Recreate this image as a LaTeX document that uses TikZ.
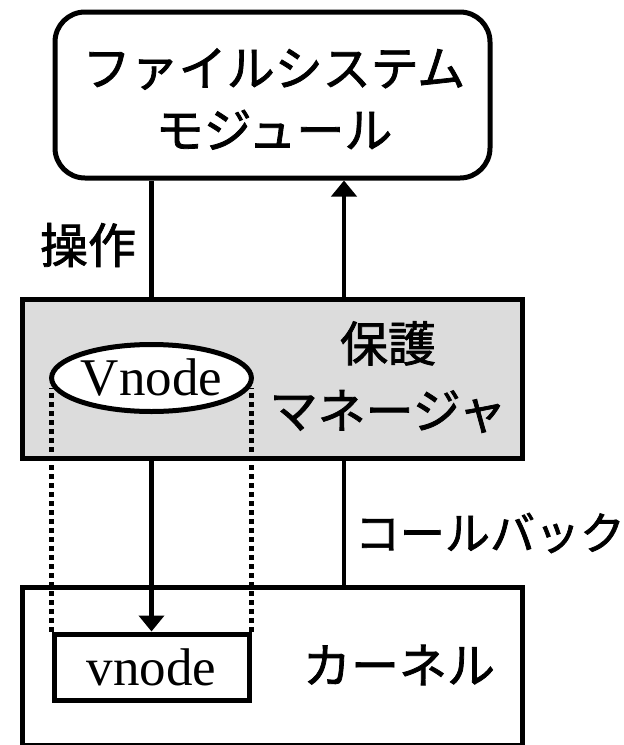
\documentclass[tikz,border=0pt]{standalone}
\usepackage{fontspec}
\setmainfont{Liberation Serif}
\newfontfamily\jp[FakeBold=1.6]{Noto Sans CJK JP}
\usetikzlibrary{arrows.meta,shapes.geometric,calc}
\definecolor{pmgray}{HTML}{DCDCDC}
\tikzset{
  box/.style={draw, line width=5pt, inner sep=0pt},
  jptext/.style={font=\jp\fontsize{48}{62}\selectfont, align=center, inner sep=0pt},
  entext/.style={font=\fontsize{53}{60}\selectfont},
  conn/.style={line width=4.5pt},
  arr/.style={conn, -{Triangle[width=25pt,length=16pt]}},
  dots/.style={line width=4.5pt, dash pattern=on 4.5pt off 4.5pt}
}
\begin{document}
\begin{tikzpicture}[x=1pt,y=-1pt]
\useasboundingbox (0,0) rectangle (624,745);
% boxes
\node[box, rounded corners=30pt, minimum width=435pt, minimum height=166pt] (fs) at (272.5,95) {};
\node[jptext] (fst) at (274,99) {ファイルシステム\\モジュール};
\node[box, fill=pmgray, minimum width=500pt, minimum height=159pt] (pm) at (272,378.5) {};
\node[jptext, font=\jp\fontsize{48}{67}\selectfont] (pmt) at (388,377) {保護\\マネージャ};
\node[box, minimum width=500pt, minimum height=158pt] (kern) at (272,666) {};
\node[jptext] (kt) at (399,665) {カーネル};
\node[box, ellipse, fill=white, minimum width=195pt, minimum height=67pt, entext] (vn) at (151.5,378) {Vnode};
\node[box, fill=white, minimum width=195pt, minimum height=66pt, entext] (vb) at (151.5,667) {vnode};
\coordinate (cbx) at (344,520);
% connectors
\draw[conn] (fs.south -| vn) -- (pm.north -| vn);
\draw[arr] (pm.south -| vn) -- (vb.north);
\draw[conn] (kern.north -| cbx) -- (pm.south -| cbx);
\draw[arr] (pm.north -| cbx) -- (fs.south -| cbx);
\draw[dots] (vb.north west) -- ($(vb.north west |- vn.center)+(0,10)$);
\draw[dots] (vb.north east) -- ($(vb.north east |- vn.center)+(0,10)$);
% labels
\node[jptext] (op) at (88,245) {操作};
\node[jptext, font=\jp\fontsize{45}{50}\selectfont] (cb) at (490,533) {コールバック};
\end{tikzpicture}
\end{document}
